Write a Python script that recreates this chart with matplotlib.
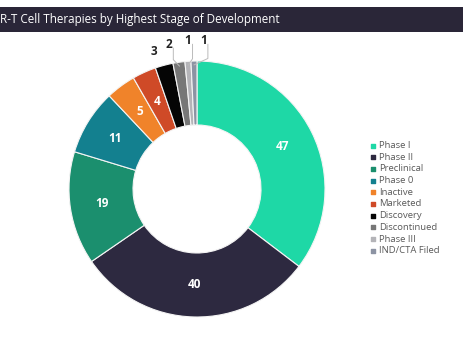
import numpy as np
import matplotlib.pyplot as plt
from matplotlib.patches import Rectangle

# stage counts, clockwise from the top
stages = ["Phase I", "Phase II", "Preclinical", "Phase 0", "Inactive",
          "Marketed", "Discovery", "Discontinued", "Phase III", "IND/CTA Filed"]
counts = [47, 40, 19, 11, 5, 4, 3, 2, 1, 1]
colors = ["#1ED8A6", "#2D2940", "#1B8F6E", "#13808F", "#F0832A",
          "#CF4A27", "#050505", "#777777", "#B4B4B8", "#8C93A3"]

title = "R-T Cell Therapies by Highest Stage of Development"

W, H = 464, 348
fig = plt.figure(figsize=(W / 100, H / 100), dpi=100)
fig.patch.set_facecolor("white")

# dark title band
fig.patches.append(Rectangle((0, 1 - 32 / H), 1, 25 / H, transform=fig.transFigure,
                             facecolor="#2A2638", edgecolor="none", zorder=0))
fig.text(0.0, 1 - 19.5 / H, title, color="white", fontsize=8.4,
         family="Open Sans", va="center", ha="left")

# donut
cx, cy, r = 197, 189, 128
ax = fig.add_axes([(cx - r) / W, (H - cy - r) / H, 2 * r / W, 2 * r / H])
wedges, _ = ax.pie(counts, colors=colors, startangle=90, counterclock=False,
                   radius=1.0, wedgeprops=dict(width=0.5, edgecolor="#F4F4F4", linewidth=0.8))
ax.set_xlim(-1, 1)
ax.set_ylim(-1, 1)
ax.set_aspect("equal")
ax.axis("off")

total = sum(counts)
angles = []
start = 90.0
for v in counts:
    angles.append(start - v / total * 360 / 2)
    start -= v / total * 360

# values inside the larger slices
for v, mid in zip(counts, angles):
    if v >= 4:
        a = np.deg2rad(mid)
        d = 0.75
        ax.text(d * np.cos(a), d * np.sin(a), str(v), color="white", fontsize=8.5,
                fontweight="bold", ha="center", va="center", family="Open Sans")

# small slices labelled outside
outside = {6: (-0.34, 1.02, False), 7: (-0.22, 1.08, True),
           8: (-0.07, 1.11, True), 9: (0.05, 1.11, True)}
for i, (tx, ty, leader) in outside.items():
    ax.text(tx, ty, str(counts[i]), color="#222222", fontsize=8.5, fontweight="bold",
            ha="center", va="bottom", family="Open Sans")
    if leader:
        a = np.deg2rad(angles[i])
        ex, ey = 0.97 * np.cos(a), 0.97 * np.sin(a)
        ax.plot([tx + 0.035, tx + 0.035, ex], [ty + 0.02, ey + 0.05, ey],
                color="#BBBBBB", linewidth=0.7, clip_on=False)

# legend
leg_ax = fig.add_axes([0, 0, 1, 1], facecolor="none")
leg_ax.set_xlim(0, W)
leg_ax.set_ylim(H, 0)
leg_ax.axis("off")
y0, step = 145.5, 11.7
for i, (name, col) in enumerate(zip(stages, colors)):
    y = y0 + i * step
    leg_ax.scatter([373], [y], marker="s", s=5, color=col)
    leg_ax.text(379, y, name, fontsize=6.8, color="#595959", va="center",
                ha="left", family="Open Sans")

fig.savefig("out.png", dpi=100)
